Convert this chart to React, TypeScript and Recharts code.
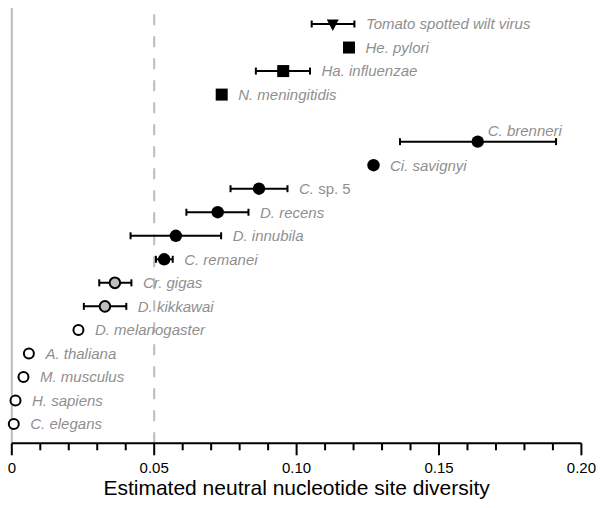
import { ErrorBar, ReferenceLine, Scatter, ScatterChart, XAxis, YAxis } from "recharts";

// rows top -> bottom
const species = [
  "Tomato spotted wilt virus",
  "He. pylori",
  "Ha. influenzae",
  "N. meningitidis",
  "C. brenneri",
  "Ci. savignyi",
  "C. sp. 5",
  "D. recens",
  "D. innubila",
  "C. remanei",
  "Cr. gigas",
  "D. kikkawai",
  "D. melanogaster",
  "A. thaliana",
  "M. musculus",
  "H. sapiens",
  "C. elegans",
];
// row position (one empty row between N. meningitidis and C. brenneri)
const rowPos = [17, 16, 15, 14, 12, 11, 10, 9, 8, 7, 6, 5, 4, 3, 2, 1, 0];
const diversity = [
  0.1127, 0.1184, 0.0953, 0.0737, 0.1636, 0.127, 0.0868, 0.0723, 0.0576,
  0.0535, 0.0362, 0.0327, 0.0234, 0.006, 0.0041, 0.0013, 0.0007,
];
const ciLow: (number | null)[] = [
  0.1053, null, 0.0857, null, 0.1363, null, 0.0768, 0.0613, 0.0417, 0.0506,
  0.0307, 0.0253, null, null, null, null, null,
];
const ciHigh: (number | null)[] = [
  0.1203, null, 0.1047, null, 0.1911, null, 0.0968, 0.0831, 0.0735, 0.0565,
  0.042, 0.0402, null, null, null, null, null,
];
const markerKind = [
  "triangle", "square", "square", "square",
  "black", "black", "black", "black", "black", "black",
  "grey", "grey",
  "open", "open", "open", "open", "open",
];

const xTicks = [
  0, 0.01, 0.02, 0.03, 0.04, 0.05, 0.06, 0.07, 0.08, 0.09, 0.1, 0.11, 0.12,
  0.13, 0.14, 0.15, 0.16, 0.17, 0.18, 0.19, 0.2,
];
const xTickLabels = [
  "0", "", "", "", "", "0.05", "", "", "", "", "0.10", "", "", "", "",
  "0.15", "", "", "", "", "0.20",
];
const xTitle = "Estimated neutral nucleotide site diversity";

const FONT = '"Liberation Sans", Arial, Helvetica, sans-serif';
const LABEL_GREY = "#8f8f8f";

const points = species.map((name, i) => {
  const lo = ciLow[i];
  const hi = ciHigh[i];
  return {
    name,
    x: diversity[i],
    y: rowPos[i],
    kind: markerKind[i],
    err: lo == null || hi == null ? null : [diversity[i] - lo, hi - diversity[i]],
  };
});

const labelPoints = species.map((name, i) => ({
  name,
  x: ciHigh[i] ?? diversity[i],
  y: rowPos[i],
  hasErr: ciHigh[i] != null,
  above: name === "C. brenneri",
  value: diversity[i],
}));
// C. brenneri label sits above its dot
labelPoints[4].x = diversity[4];

const byKind = (k: string) => points.filter((p) => p.kind === k);

function Marker(props: any) {
  const { cx, cy, payload } = props;
  if (cx == null || cy == null) return null;
  switch (payload.kind) {
    case "triangle":
      return (
        <polygon
          points={`${cx - 6},${cy - 4.5} ${cx + 6},${cy - 4.5} ${cx},${cy + 7}`}
          fill="#000"
        />
      );
    case "square":
      return <rect x={cx - 6} y={cy - 6} width={12} height={12} fill="#000" />;
    case "black":
      return <circle cx={cx} cy={cy} r={6.2} fill="#000" />;
    case "grey":
      return <circle cx={cx} cy={cy} r={5.3} fill="#bdbdbd" stroke="#000" strokeWidth={2} />;
    default:
      return <circle cx={cx} cy={cy} r={5} fill="#fff" stroke="#000" strokeWidth={2} />;
  }
}

function SpeciesLabel(props: any) {
  const { cx, cy, payload } = props;
  if (cx == null || cy == null) return null;
  const x = payload.above ? cx + 10 : cx + (payload.hasErr ? 11.5 : 16.5);
  const y = payload.above ? cy - 11 : cy;
  const name: string = payload.name;
  const sp = name.indexOf(" sp.");
  return (
    <text
      x={x}
      y={y}
      dy="0.36em"
      fontFamily={FONT}
      fontSize={15}
      fill={LABEL_GREY}
      textAnchor="start"
    >
      {sp >= 0 ? (
        <>
          <tspan fontStyle="italic">{name.slice(0, sp)}</tspan>
          <tspan>{name.slice(sp)}</tspan>
        </>
      ) : (
        <tspan fontStyle="italic">{name}</tspan>
      )}
    </text>
  );
}

function XTick(props: any) {
  const { x, y, payload } = props;
  const idx = xTicks.indexOf(payload.value);
  const label = xTickLabels[idx] ?? "";
  const major = label !== "";
  return (
    <g>
      <line x1={x} x2={x} y1={y} y2={y + (major ? 12 : 7)} stroke="#000" strokeWidth={2} />
      {major && (
        <text x={x} y={y + 30} textAnchor="middle" fontFamily={FONT} fontSize={15} fill="#000">
          {label}
        </text>
      )}
    </g>
  );
}

function XTitle(props: any) {
  const vb = props.viewBox || {};
  return (
    <text
      x={vb.x + vb.width / 2}
      y={vb.y + 52}
      textAnchor="middle"
      fontFamily={FONT}
      fontSize={21}
      fill="#000"
    >
      {xTitle}
    </text>
  );
}

const errProps = {
  dataKey: "err",
  direction: "x" as const,
  stroke: "#000",
  strokeWidth: 2,
  width: 3.5,
};

export default function App() {
  return (
    <div style={{ position: "absolute", left: 0, top: 0, background: "#fff" }}>
      <ScatterChart
        width={603}
        height={508}
        margin={{ top: 8, right: 21.6, bottom: 0, left: 11.8 }}
      >
        <XAxis
          type="number"
          dataKey="x"
          domain={[0, 0.2]}
          ticks={xTicks}
          interval={0}
          height={64.7}
          tickSize={0}
          tickMargin={0}
          tickLine={false}
          axisLine={{ stroke: "#000", strokeWidth: 2 }}
          tick={<XTick />}
          label={{ content: <XTitle /> }}
        />
        <YAxis type="number" dataKey="y" domain={[-0.82, 17.68]} hide />
        <ReferenceLine x={0} stroke="#bcbcbc" strokeWidth={2} />
        <ReferenceLine x={0.05} stroke="#bcbcbc" strokeWidth={2} strokeDasharray="11 11" />
        <Scatter data={byKind("triangle")} shape={<Marker />} isAnimationActive={false}>
          <ErrorBar {...errProps} />
        </Scatter>
        <Scatter data={byKind("square")} shape={<Marker />} isAnimationActive={false}>
          <ErrorBar {...errProps} />
        </Scatter>
        <Scatter data={byKind("black")} shape={<Marker />} isAnimationActive={false}>
          <ErrorBar {...errProps} />
        </Scatter>
        <Scatter data={byKind("grey")} shape={<Marker />} isAnimationActive={false}>
          <ErrorBar {...errProps} />
        </Scatter>
        <Scatter data={byKind("open")} shape={<Marker />} isAnimationActive={false} />
        <Scatter data={labelPoints} shape={<SpeciesLabel />} isAnimationActive={false} />
      </ScatterChart>
    </div>
  );
}
